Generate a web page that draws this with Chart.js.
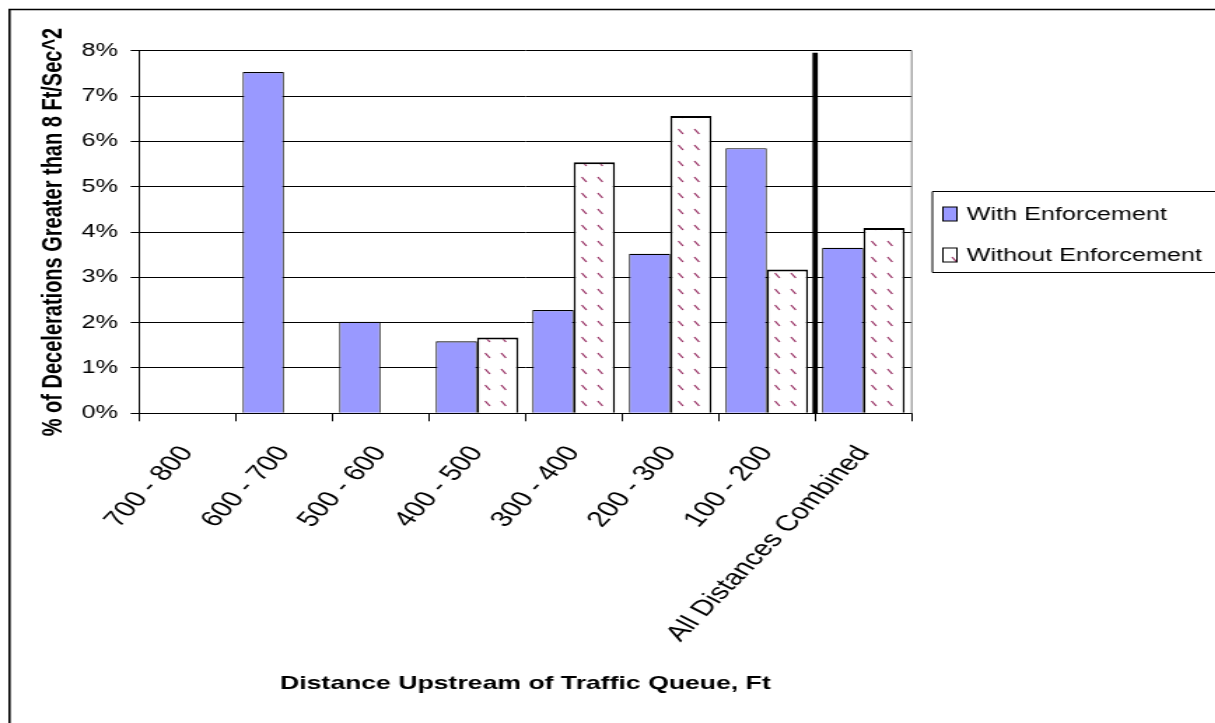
<!DOCTYPE html>
<html>
<head>
<meta charset="utf-8">
<script src="https://cdn.jsdelivr.net/npm/chart.js@4.4.1/dist/chart.umd.min.js"></script>
<style>
  html, body { margin: 0; padding: 0; background: #fff; overflow: hidden; }
  /* the reference picture is stretched sideways, so the chart is drawn narrow and widened */
  #wrap { width: 868px; height: 723px; transform: scaleX(1.4); transform-origin: 0 0; }
</style>
</head>
<body>
<div id="wrap"><canvas id="myChart"></canvas></div>
<script>
let labels = ["700 - 800", "600 - 700", "500 - 600", "400 - 500", "300 - 400", "200 - 300", "100 - 200", "All Distances Combined"];
let withEnf = [0, 7.53, 2.02, 1.59, 2.28, 3.52, 5.85, 3.65];
let withoutEnf = [0, 0, 0, 1.67, 5.54, 6.56, 3.17, 4.09];
let seriesNames = ["With Enforcement", "Without Enforcement"];
let yTicks = [0, 1, 2, 3, 4, 5, 6, 7, 8];
let dividerAfter = 6; // thick line after "100 - 200"

const FONT = "Arial, 'Liberation Sans', sans-serif";
Chart.defaults.font.family = FONT;
Chart.defaults.color = "#000";

let ctx = document.getElementById("myChart").getContext("2d");

function makePattern() {
    let c = document.createElement("canvas");
    c.width = 23; c.height = 16;
    let g = c.getContext("2d");
    g.fillStyle = "#fff";
    g.fillRect(0, 0, 23, 16);
    g.strokeStyle = "#993366";
    g.lineWidth = 1.3;
    [1.5, 13].forEach(function(x) {
        g.beginPath();
        g.moveTo(x, 1);
        g.lineTo(x + 3.4, 6);
        g.stroke();
    });
    return ctx.createPattern(c, "repeat");
}
let dots = makePattern();

const extras = {
    id: "extras",
    beforeDraw(chart) {
        let c = chart.ctx;
        c.save();
        c.fillStyle = "#fff";
        c.fillRect(0, 0, chart.width, chart.height);
        c.restore();
    },
    afterDatasetsDraw(chart) {
        let c = chart.ctx, x = chart.scales.x, y = chart.scales.y, area = chart.chartArea;
        c.save();
        // plot area right edge
        c.strokeStyle = "#808080";
        c.lineWidth = 1;
        c.beginPath();
        c.moveTo(area.right, area.top);
        c.lineTo(area.right, area.bottom);
        c.stroke();
        // thick separator before the combined group
        let xp = x.getPixelForValue(dividerAfter + 0.5);
        c.strokeStyle = "#000";
        c.lineWidth = 3.8;
        c.beginPath();
        c.moveTo(xp, y.getPixelForValue(yTicks[yTicks.length - 1]) + 2);
        c.lineTo(xp, y.bottom);
        c.stroke();
        c.restore();
    },
    afterDraw(chart) {
        let c = chart.ctx, w = chart.width, h = chart.height;
        c.save();
        // legend (its right side runs off the picture)
        c.strokeStyle = "#000";
        c.lineWidth = 1;
        c.beginPath();
        c.moveTo(w + 5, 191.5);
        c.lineTo(666, 191.5);
        c.lineTo(666, 272.5);
        c.lineTo(w + 5, 272.5);
        c.stroke();
        c.font = "18px " + FONT;
        c.textBaseline = "middle";
        chart.data.datasets.forEach(function(ds, i) {
            let cy = 214 + i * 41;
            c.fillStyle = ds.backgroundColor;
            c.fillRect(673.5, cy - 7, 10, 14);
            c.strokeStyle = "#000";
            c.lineWidth = 1;
            c.strokeRect(673.5, cy - 7, 10, 14);
            c.fillStyle = "#000";
            c.fillText(ds.label, 690.5, cy + 1);
        });
        // outer frame, cut off at right and bottom
        c.lineWidth = 1.6;
        c.beginPath();
        c.moveTo(w + 5, 9.5);
        c.lineTo(6.8, 9.5);
        c.lineTo(6.8, h + 5);
        c.stroke();
        c.restore();
    }
};

new Chart(ctx, {
    type: "bar",
    data: {
        labels: labels,
        datasets: [
            {
                label: seriesNames[0],
                data: withEnf,
                backgroundColor: "#9999ff",
                borderColor: "#000",
                borderWidth: {top: 1.2, left: 1, right: 1, bottom: 0},
                categoryPercentage: 0.855,
                barPercentage: 1.0
            },
            {
                label: seriesNames[1],
                data: withoutEnf,
                backgroundColor: dots,
                borderColor: "#000",
                borderWidth: {top: 2, left: 1.5, right: 1.5, bottom: 0},
                categoryPercentage: 0.855,
                barPercentage: 1.0
            }
        ]
    },
    options: {
        responsive: true,
        maintainAspectRatio: false,
        animation: false,
        devicePixelRatio: 1,
        layout: { padding: { left: 6, right: 216.8, top: 50.7, bottom: 8 } },
        plugins: {
            legend: { display: false },
            tooltip: { enabled: false }
        },
        scales: {
            x: {
                grid: { display: true, drawOnChartArea: false, drawTicks: true, tickLength: 8, color: "#000", offset: true },
                border: { color: "#000", width: 1 },
                ticks: { font: { size: 22 }, minRotation: 54.5, maxRotation: 54.5, autoSkip: false, padding: 20 },
                title: {
                    display: true,
                    text: "Distance Upstream of Traffic Queue, Ft",
                    font: { size: 19, weight: "bold" },
                    padding: { top: 0, bottom: 19.6 }
                },
                afterFit: function(scale) { scale.height = 301.7; }
            },
            y: {
                min: yTicks[0],
                max: yTicks[yTicks.length - 1],
                grid: { color: "#000", lineWidth: 1, tickLength: 6 },
                border: { color: "#000", width: 1 },
                ticks: {
                    stepSize: 1,
                    font: { size: 18 },
                    padding: 9,
                    callback: function(v) { return v + "%"; }
                },
                title: {
                    display: true,
                    text: "% of Decelerations Greater than 8 Ft/Sec^2",
                    font: { size: 20, weight: "bold" },
                    padding: { top: 20, bottom: 0 }
                },
                afterFit: function(scale) { scale.width = 93.3; }
            }
        }
    },
    plugins: [extras]
});
</script>
</body>
</html>
